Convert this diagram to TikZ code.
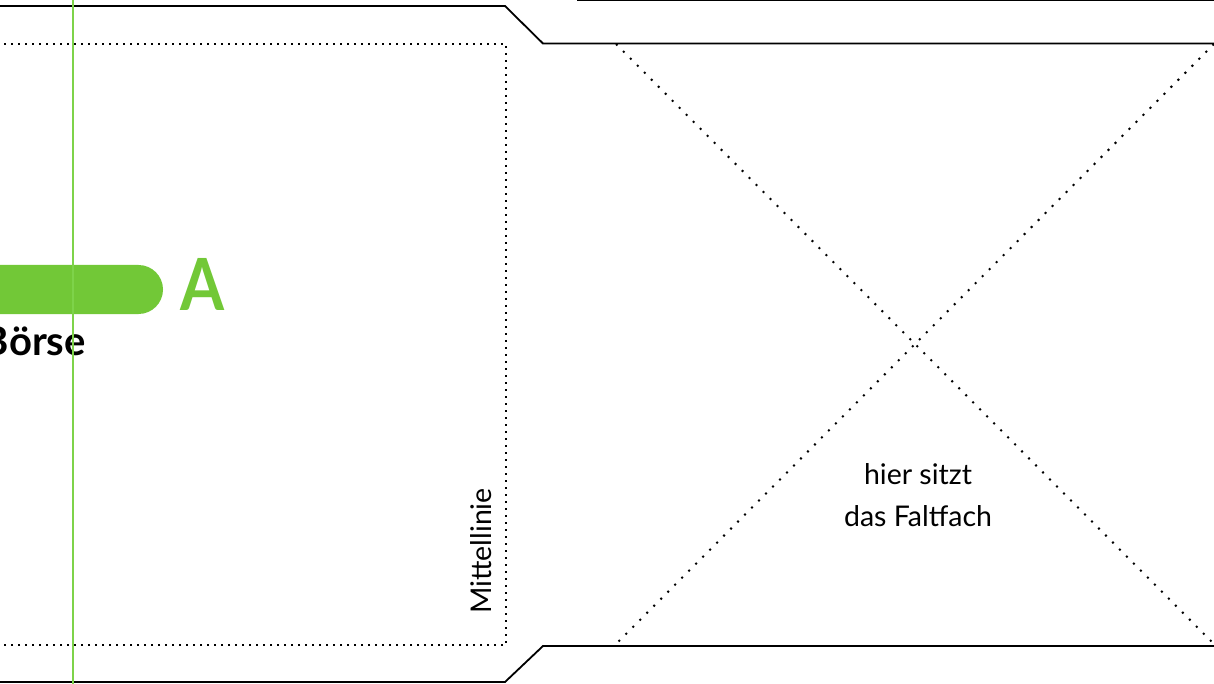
\documentclass[tikz,border=0pt]{standalone}
\usepackage{fontspec}
\setmainfont{Lato}
\newfontfamily\lightf{Lato}
\definecolor{leaf}{HTML}{72C837}
\definecolor{leafline}{HTML}{7ED34A}
\tikzset{
  cutline/.style={draw=black, line width=1.8pt, line join=miter},
  foldrect/.style={draw=black, line width=2.3pt, dash pattern=on 2.3pt off 4.7pt},
  folddiag/.style={draw=black, line width=2pt, dash pattern=on 2pt off 7.9pt},
  lighttext/.style={inner sep=0pt, font=\lightf\fontsize{28.5}{42}\selectfont},
}
\begin{document}
\begin{tikzpicture}[x=1pt,y=-1pt]
\useasboundingbox (0,0) rectangle (1214,684);
\fill[white] (0,0) rectangle (1214,684);
% cut lines
\draw[cutline] (-5,6) -- (505,6) -- (543,43.5) -- (1220,43.5);
\draw[cutline] (577,0.3) -- (1220,0.3);
\draw[cutline] (-5,682) -- (505,682) -- (543,646) -- (1220,646);
% fold rectangle (left panel)
\draw[foldrect] (-3,44) -- (506,44) -- (506,645) -- (-3,645);
% fold cross
\coordinate (tl) at (616,44);
\coordinate (br) at (1214,644);
\coordinate (tr) at (1214,44);
\coordinate (bl) at (616,644);
\draw[folddiag] (tl) -- (br);
\draw[folddiag] (tr) -- (bl);
% green bar and letter
\fill[leaf, rounded corners=24.5pt] (-80,265) rectangle (163,314);
\node[anchor=base west, inner sep=0pt, xscale=0.88, text=leaf, font=\fontsize{72}{72}\selectfont\bfseries] (letter) at (180,310) {A};
\node[anchor=base east, inner sep=0pt, font=\fontsize{40}{40}\selectfont\bfseries] (boerse) at (86,355) {Börse};
% texts
\node[lighttext, rotate=90, anchor=base] (mittel) at (491,551) {Mittellinie};
\node[lighttext, anchor=base] (hier) at (918,484) {hier sitzt};
\node[lighttext, anchor=base] (fach) at (918,526) {das Faltfach};
% green guide line
\draw[leafline, line width=1.8pt] (73,-2) -- (73,686);
\end{tikzpicture}
\end{document}
